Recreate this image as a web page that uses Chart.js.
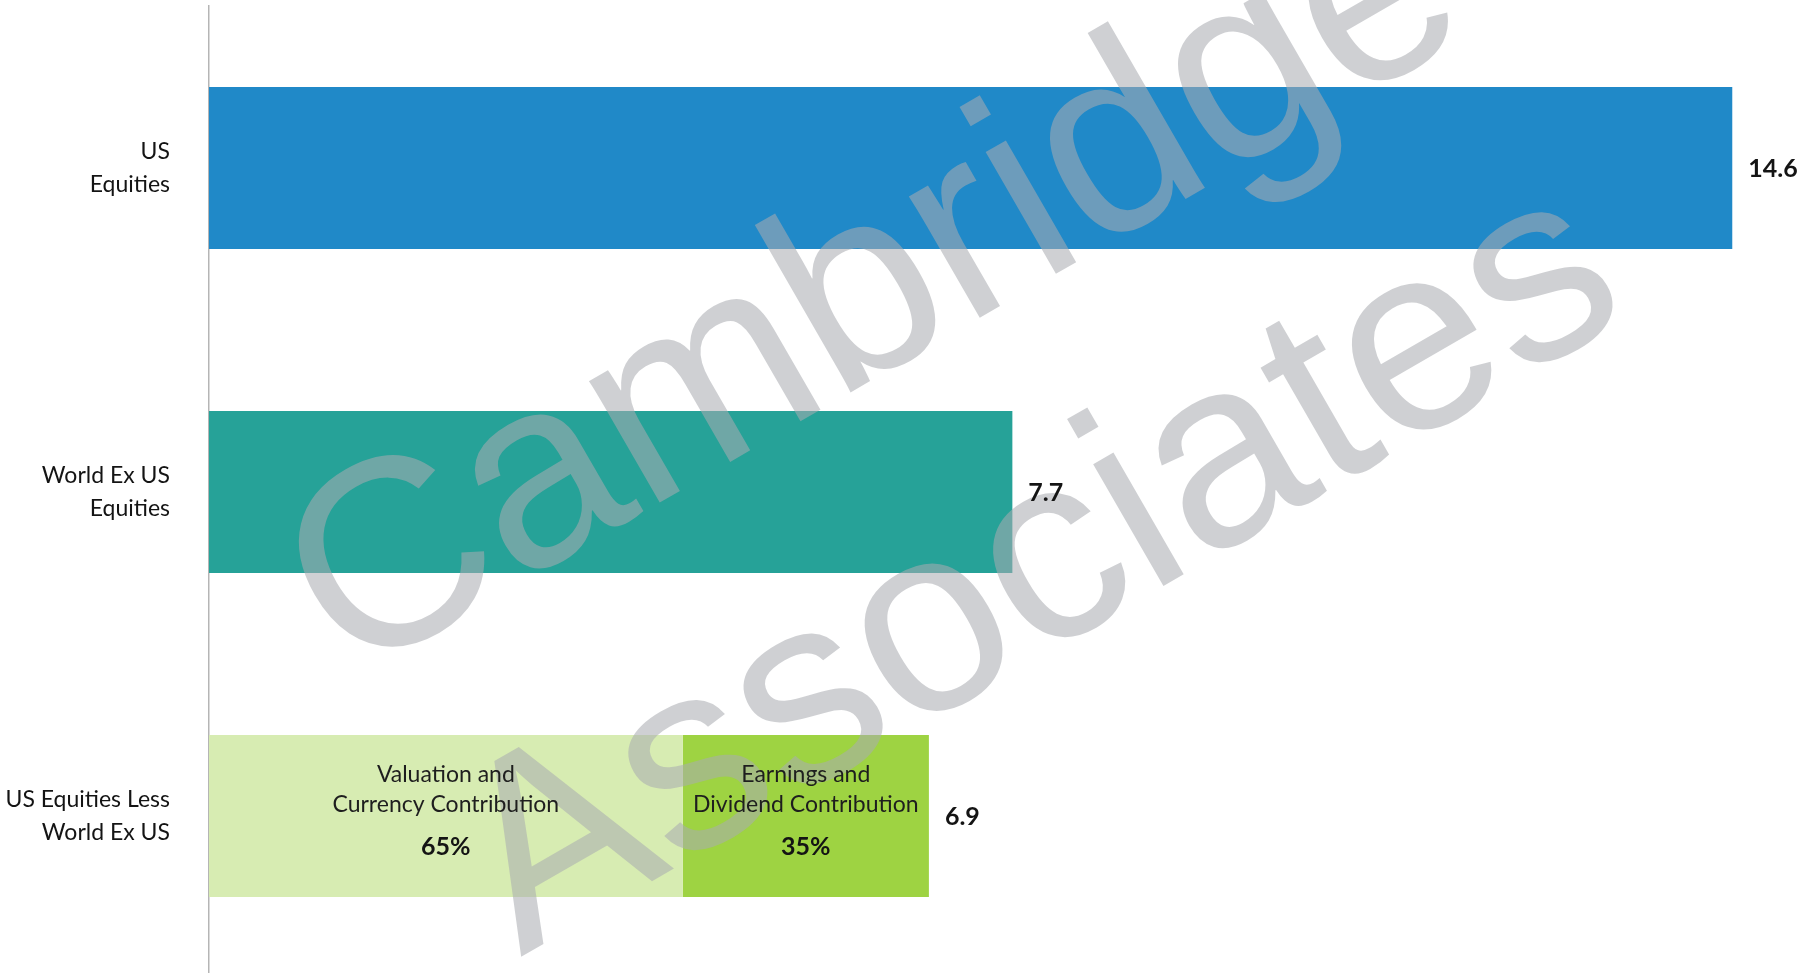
<!DOCTYPE html>
<html><head><meta charset="utf-8">
<script src="https://cdn.jsdelivr.net/npm/chart.js@4.4.1/dist/chart.umd.min.js"></script>
<style>html,body{margin:0;padding:0;background:#fff;overflow:hidden;} #wrap{position:relative;width:1815px;height:978px;}</style>
</head><body><div id="wrap"><canvas id="c"></canvas></div>
<script>
const categories = [["US","Equities"],["World Ex US","Equities"],["US Equities Less","World Ex US"]];
const totalValues = [14.6, 7.7, 6.9];
const singleBarValues = [14.6, 7.7, null];
const valuationValues = [null, null, 4.54];
const earningsValues = [null, null, 2.36];
const valueLabels = ["14.6", "7.7", "6.9"];
const contributionNames = [["Valuation and","Currency Contribution"],["Earnings and","Dividend Contribution"]];
const contributionShares = ["65%", "35%"];
const watermarkLines = ["Cambridge", "Associates"];

const FONT = 'Lato';

const watermarkPlugin = {
  id: 'watermark',
  afterDatasetsDraw(chart) {
    const ctx = chart.ctx;
    ctx.save();
    ctx.fillStyle = 'rgba(170,172,176,0.56)';
    ctx.font = '266px "Liberation Sans", Arial, sans-serif';
    ctx.textAlign = 'center';
    ctx.textBaseline = 'middle';
    const spots = [[876, 293], [1041, 572]];
    watermarkLines.forEach((t, i) => {
      ctx.save();
      ctx.translate(spots[i][0], spots[i][1]);
      ctx.rotate(-30 * Math.PI / 180);
      ctx.fillText(t, 0, 0);
      ctx.restore();
    });
    ctx.restore();
  }
};

const labelPlugin = {
  id: 'labels',
  afterDraw(chart) {
    const ctx = chart.ctx;
    const xs = chart.scales.x, ys = chart.scales.y;
    ctx.save();
    ctx.fillStyle = '#141414';
    ctx.textAlign = 'left';
    ctx.textBaseline = 'middle';
    ctx.font = `bold 25px ${FONT}`;
    totalValues.forEach((v, i) => {
      ctx.fillText(valueLabels[i], xs.getPixelForValue(v) + 16, ys.getPixelForValue(i) + 1);
    });
    [1, 2].forEach((dsIndex, k) => {
      const meta = chart.getDatasetMeta(dsIndex);
      meta.data.forEach((bar, i) => {
        const val = chart.data.datasets[dsIndex].data[i];
        if (val == null) return;
        const cx = (bar.x + bar.base) / 2;
        const cy = bar.y;
        ctx.textAlign = 'center';
        ctx.fillStyle = '#1e1e1e';
        ctx.font = `23px ${FONT}`;
        ctx.fillText(contributionNames[k][0], cx, cy - 41);
        ctx.fillText(contributionNames[k][1], cx, cy - 11);
        ctx.font = `bold 25px ${FONT}`;
        ctx.fillStyle = '#141414';
        ctx.fillText(contributionShares[k], cx, cy + 31);
      });
    });
    ctx.restore();
  }
};

new Chart(document.getElementById('c'), {
  type: 'bar',
  data: {
    labels: categories,
    datasets: [
      { label: 'Equities', data: singleBarValues, backgroundColor: ['#2089c8', '#26a298', '#000'], categoryPercentage: 1, barPercentage: 0.5 },
      { label: 'Valuation and Currency Contribution', data: valuationValues, backgroundColor: '#d7ecb2', categoryPercentage: 1, barPercentage: 0.5 },
      { label: 'Earnings and Dividend Contribution', data: earningsValues, backgroundColor: '#9ed342', categoryPercentage: 1, barPercentage: 0.5 }
    ]
  },
  options: {
    indexAxis: 'y',
    responsive: true,
    maintainAspectRatio: false,
    devicePixelRatio: 1,
    animation: false,
    layout: { padding: { top: 6, right: 41, bottom: 0, left: 0 } },
    plugins: { legend: { display: false }, tooltip: { enabled: false } },
    scales: {
      x: { stacked: true, min: 0, max: 15, display: false },
      y: {
        stacked: true,
        grid: { display: false, drawTicks: false },
        border: { display: true, color: '#b5b5b5', width: 1.5 },
        ticks: { padding: 39, color: '#141414', font: { family: FONT, size: 23, lineHeight: 1.4 } },
        afterFit: (s) => { s.width = 209; s.paddingTop = 0; s.paddingBottom = 0; }
      }
    }
  },
  plugins: [watermarkPlugin, labelPlugin]
});
</script>
</body></html>
